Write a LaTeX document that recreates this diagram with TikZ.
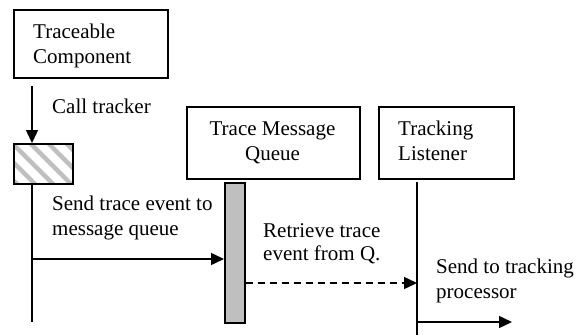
\documentclass[tikz,border=0pt]{standalone}
\usepackage{fontspec}
\setmainfont{Liberation Serif}
\usetikzlibrary{arrows.meta}
\begin{document}
\begin{tikzpicture}[x=1pt,y=-1pt,
  box/.style={draw, line width=1.6pt, inner sep=0pt, anchor=north west},
  lbl/.style={anchor=base west, inner sep=0pt, font=\fontsize{21}{25}\selectfont},
  clbl/.style={anchor=base, inner sep=0pt, font=\fontsize{21}{25}\selectfont},
  msg/.style={line width=1.5pt, -{Triangle[length=13pt,width=12pt]}},
  dmsg/.style={msg, dash pattern=on 7pt off 5pt},
  life/.style={line width=1.5pt},
  stripe/.style={draw=black!25, line width=4.5pt}]
\useasboundingbox (0,0) rectangle (585,335);
% Traceable Component
\node[box, minimum width=154pt, minimum height=68pt] (tc) at (13,9) {};
\node[lbl] (tc1) at (33,38) {Traceable};
\node[lbl] (tc2) at (33,63) {Component};
% hatched activation
\begin{scope}
  \clip (13,143) rectangle (72,183);
  \foreach \i in {-58,-40,...,80} {
    \draw[stripe] (13+\i,140) -- (13+\i+46,186);
  }
\end{scope}
\node[box, minimum width=59pt, minimum height=40pt] (hb) at (13,143) {};
\coordinate (c0) at (32,86);
\draw[msg] (c0) -- (c0 |- hb.north);
\node[lbl] (ct) at (52,113) {Call tracker};
% lifeline of traceable component
\coordinate (l1end) at (32,322);
\draw[life] (l1end |- hb.south) -- (l1end);
% Trace Message Queue
\node[box, minimum width=173pt, minimum height=72pt] (tmq) at (186,106) {};
\node[clbl] (tmq1) at (272.5,135) {Trace Message};
\node[clbl] (tmq2) at (272.5,160) {Queue};
\node[box, fill=black!25, minimum width=20pt, minimum height=140pt] (q) at (224,182) {};
% Tracking Listener
\node[box, minimum width=135pt, minimum height=72pt] (tl) at (378,106) {};
\node[lbl] (tl1) at (398,135) {Tracking};
\node[lbl] (tl2) at (398,160) {Listener};
\coordinate (l3top) at (417,182);
\coordinate (l3end) at (417,335);
\draw[life] (l3top) -- (l3end);
% messages
\coordinate (m1) at (32,259);
\draw[msg] (m1) -- (q.west |- m1);
\node[lbl] (m1a) at (52,210) {Send trace event to};
\node[lbl] (m1b) at (52,235) {message queue};
\coordinate (m2) at (417,283);
\draw[dmsg] (q.east |- m2) -- (m2);
\node[lbl] (m2a) at (263,237) {Retrieve trace};
\node[lbl] (m2b) at (263,260) {event from Q.};
\coordinate (m3s) at (417,322);
\coordinate (m3e) at (512,322);
\draw[msg] (m3s) -- (m3e);
\node[lbl] (m3a) at (436,273) {Send to tracking};
\node[lbl] (m3b) at (436,298) {processor};
\end{tikzpicture}
\end{document}
